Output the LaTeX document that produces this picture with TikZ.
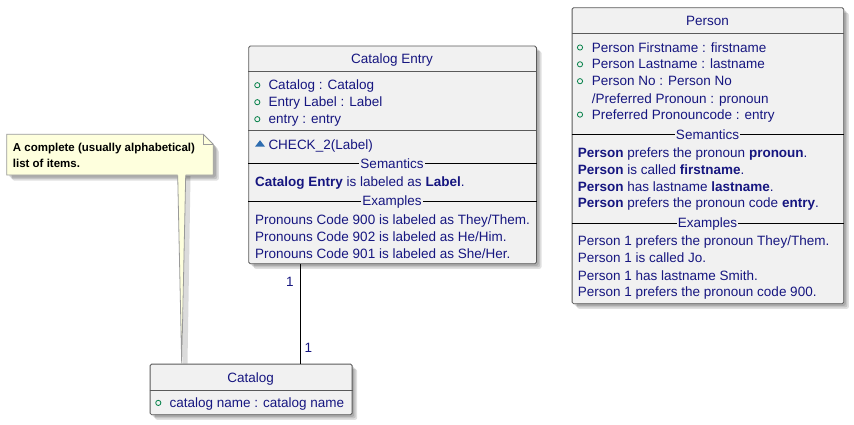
\documentclass[tikz,border=0pt]{standalone}
\usepackage{fontspec}
\setmainfont{Liberation Sans}
\usetikzlibrary{calc}
\definecolor{txt}{RGB}{22,22,128}
\definecolor{boxfill}{HTML}{F1F1F1}
\definecolor{boxline}{HTML}{5A5A5A}
\definecolor{pubgreen}{HTML}{038048}
\definecolor{pkgblue}{HTML}{2E6DB0}
\definecolor{notefill}{HTML}{FEFFDD}
\definecolor{noteline}{HTML}{9A9A9A}
\newcommand\bodyfont{\fontsize{13.5}{16}\selectfont}
\newcommand\notefont{\fontsize{11.5}{13}\selectfont\bfseries}
\begin{document}
\begin{tikzpicture}[x=1pt,y=-1pt,
  umlbox/.style={draw=boxline, fill=boxfill, line width=0.8pt, rounded corners=1.5pt, inner sep=0, anchor=north west},
  shadowbox/.style={fill=black, opacity=0.12, rounded corners=2pt},
  hdrline/.style={draw=boxline, line width=0.8pt},
  sepline/.style={draw=black, line width=0.9pt},
  txtl/.style={anchor=base west, inner sep=0, text=txt, font=\bodyfont},
  txtc/.style={anchor=base, inner sep=0, text=txt, font=\bodyfont},
  seplabel/.style={anchor=center, fill=boxfill, inner xsep=1pt, inner ysep=0.5pt, text=txt, font=\bodyfont},
  pub/.style={draw=pubgreen, line width=0.8pt, circle, minimum size=5.2pt, inner sep=0},
  mult/.style={anchor=center, inner sep=0, text=txt, font=\bodyfont},
  notetxt/.style={anchor=base west, inner sep=0, text=black, font=\notefont}
]
\useasboundingbox[fill=white] (0,0) rectangle (854,425);

% ---------- shadows ----------
\foreach \d in {2.5,4,5.5}{
  \fill[shadowbox] (248.3+\d,45.7+\d) rectangle (536+\d,263.3+\d);
  \fill[shadowbox] (571.7+\d,7.3+\d) rectangle (843.3+\d,303.3+\d);
  \fill[shadowbox] (149.7+\d,363.7+\d) rectangle (351.7+\d,414.3+\d);
  \fill[shadowbox] (6.7+\d,134.3+\d) -- (203.3+\d,134.3+\d) -- (213.3+\d,144.3+\d) -- (213.3+\d,175+\d) -- (6.7+\d,175+\d) -- cycle;
}
\fill[black, opacity=0.14] (185.2,176) -- (190.5,176) -- (187.5,363.7) -- (182.5,363.7) -- cycle;

% ---------- Catalog Entry ----------
\node[umlbox, minimum width=287.7pt, minimum height=217.6pt] (ce) at (248.3,45.7) {};
\draw[hdrline] (ce.west |- 0,71.7) -- (ce.east |- 0,71.7);
\draw[hdrline] (ce.west |- 0,130) -- (ce.east |- 0,130);
\draw[sepline] (ce.west |- 0,163.3) -- (ce.east |- 0,163.3);
\draw[sepline] (ce.west |- 0,201.3) -- (ce.east |- 0,201.3);
\node[txtc] (ceT) at (392,64) {Catalog Entry};
\node[pub] (ceC1) at (257.3,85.2) {};
\node[pub] (ceC2) at (257.3,102.2) {};
\node[pub] (ceC3) at (257.3,119.2) {};
\node[txtl] (ceA1) at (268.3,90) {Catalog : Catalog};
\node[txtl] (ceA2) at (268.3,107) {Entry Label : Label};
\node[txtl] (ceA3) at (268.3,124) {entry : entry};
\fill[pkgblue] (255,146.7) -- (265,146.7) -- (260,140.2) -- cycle;
\node[txtl] (ceM1) at (268.3,149.3) {CHECK\_2(Label)};
\node[seplabel] (ceSL) at (392,163.8) {Semantics};
\node[txtl] (ceS1) at (255,186) {\textbf{Catalog Entry} is labeled as \textbf{Label}.};
\node[seplabel] (ceEL) at (392,201.8) {Examples};
\node[txtl] (ceE1) at (255,224.3) {Pronouns Code 900 is labeled as They/Them.};
\node[txtl] (ceE2) at (255,241.6) {Pronouns Code 902 is labeled as He/Him.};
\node[txtl] (ceE3) at (255,258.3) {Pronouns Code 901 is labeled as She/Her.};

% ---------- Person ----------
\node[umlbox, minimum width=271.6pt, minimum height=296pt] (pe) at (571.7,7.3) {};
\draw[hdrline] (pe.west |- 0,33.3) -- (pe.east |- 0,33.3);
\draw[sepline] (pe.west |- 0,134.7) -- (pe.east |- 0,134.7);
\draw[sepline] (pe.west |- 0,223.3) -- (pe.east |- 0,223.3);
\node[txtc] (peT) at (707.5,26) {Person};
\node[pub] (peC1) at (580,47.5) {};
\node[pub] (peC2) at (580,64.3) {};
\node[pub] (peC3) at (580,81.2) {};
\node[pub] (peC5) at (580,114.6) {};
\node[txtl] (peA1) at (591.7,52.3) {Person Firstname : firstname};
\node[txtl] (peA2) at (591.7,69) {Person Lastname : lastname};
\node[txtl] (peA3) at (591.7,86) {Person No : Person No};
\node[txtl] (peA4) at (591.7,103.3) {/Preferred Pronoun : pronoun};
\node[txtl] (peA5) at (591.7,119.3) {Preferred Pronouncode : entry};
\node[seplabel] (peSL) at (707.5,135) {Semantics};
\node[txtl] (peS1) at (577.7,157.3) {\textbf{Person} prefers the pronoun \textbf{pronoun}.};
\node[txtl] (peS2) at (577.7,174.3) {\textbf{Person} is called \textbf{firstname}.};
\node[txtl] (peS3) at (577.7,191) {\textbf{Person} has lastname \textbf{lastname}.};
\node[txtl] (peS4) at (577.7,207.7) {\textbf{Person} prefers the pronoun code \textbf{entry}.};
\node[seplabel] (peEL) at (707.5,223.6) {Examples};
\node[txtl] (peE1) at (577.7,245.7) {Person 1 prefers the pronoun They/Them.};
\node[txtl] (peE2) at (577.7,262.7) {Person 1 is called Jo.};
\node[txtl] (peE3) at (577.7,280) {Person 1 has lastname Smith.};
\node[txtl] (peE4) at (577.7,296.7) {Person 1 prefers the pronoun code 900.};

% ---------- Catalog ----------
\node[umlbox, minimum width=202pt, minimum height=50.6pt] (cat) at (149.7,363.7) {};
\draw[hdrline] (cat.west |- 0,390) -- (cat.east |- 0,390);
\node[txtc] (catT) at (250.7,382.3) {Catalog};
\node[pub] (catC1) at (158.3,402.9) {};
\node[txtl] (catA1) at (169.3,407.7) {catalog name : catalog name};

% ---------- association ----------
\draw[black, line width=0.9pt] ($(ce.south west)+(52,0)$) -- ($(cat.north west)+(150.6,0)$);
\node[mult] (m1) at (290,281.7) {1};
\node[mult] (m2) at (308.5,347.7) {1};

% ---------- note ----------
\node[inner sep=0, minimum width=206.6pt, minimum height=40.7pt, anchor=north west] (note) at (6.7,134.3) {};
\draw[draw=noteline, fill=notefill, line width=0.8pt] (6.7,134.3) -- (203.3,134.3) -- (213.3,144.3) -- (213.3,175) -- (6.7,175) -- cycle;
\draw[draw=noteline, line width=0.8pt] (203.3,134.3) -- (203.3,144.3) -- (213.3,144.3);
\node[notetxt] (nt1) at (12.7,151.8) {A complete (usually alphabetical)};
\node[notetxt] (nt2) at (12.7,167.5) {list of items.};
\fill[notefill] ($(note.south west)+(171,-1.2)$) -- ($(note.south west)+(179,-1.2)$) -- ($(cat.north west)+(32,0)$) -- cycle;
\draw[draw=noteline, line width=0.8pt] ($(note.south west)+(171,0)$) -- ($(cat.north west)+(32,0)$) -- ($(note.south west)+(179,0)$);
\end{tikzpicture}
\end{document}
